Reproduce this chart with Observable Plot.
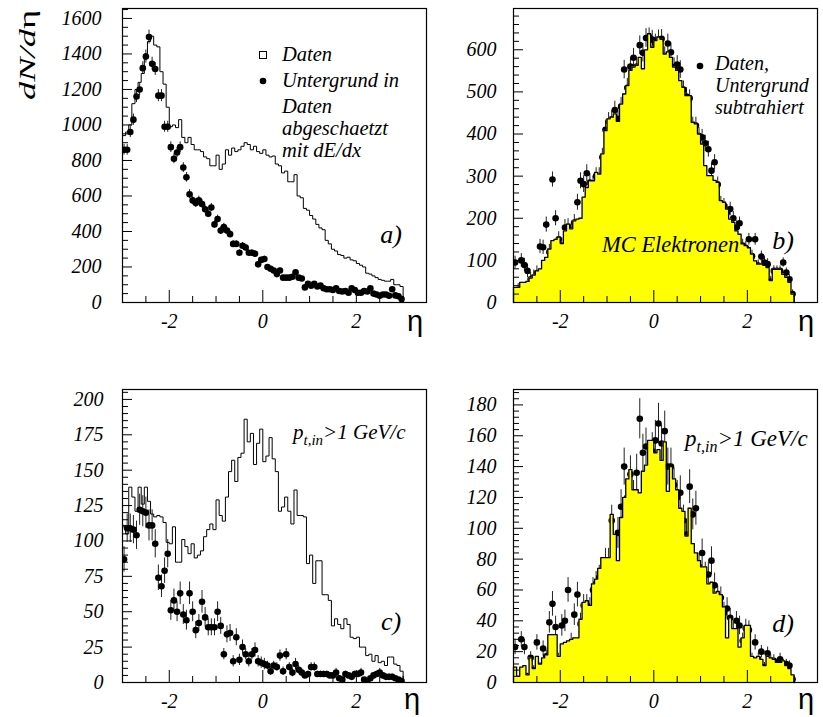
<!DOCTYPE html>
<html><head><meta charset="utf-8">
<script src="https://cdn.jsdelivr.net/npm/d3@7"></script>
<script src="https://cdn.jsdelivr.net/npm/@observablehq/plot@0.6"></script>
<style>
html,body{margin:0;padding:0;background:#fff;}
#wrap{position:relative;width:823px;height:717px;overflow:hidden;background:#fff;}
#wrap svg{position:absolute;left:0;top:0;}
</style></head><body><div id="wrap"></div>
<script>
// ---- binning (90 bins of eta from -3 to 3) ----
const ETA_MIN = -3, ETA_MAX = 3;
const xDomain = [-3, 3.5];
const xTicksMajor = [-2, 0, 2];
const xTicksMinor = [-3, -2.5, -1.5, -1, -0.5, 0.5, 1, 1.5, 2.5, 3];

// ---- panel a) : Daten (histogram) and Untergrund (points) ----
const aDaten = [940,960,1000,1120,1200,1240,1290,1400,1470,1500,
1450,1440,1300,1230,1100,990,1000,985,1030,930,
900,930,890,860,860,850,820,810,770,770,
830,750,780,860,830,870,850,860,880,900,
890,860,880,850,840,860,830,820,825,780,
770,730,740,680,680,720,600,590,530,520,
490,470,440,420,410,350,330,300,290,270,
265,250,255,240,235,220,210,200,165,160,
150,140,130,125,120,120,130,100,100,90];
const aUntergrund = [860,860,960,1030,1160,1200,1320,1385,1495,1345,
1315,1165,1165,990,990,875,810,845,875,760,
705,610,575,560,575,555,525,500,535,440,
470,405,425,405,385,330,330,280,320,310,
280,280,275,215,240,245,200,190,180,160,
180,140,140,140,145,170,140,135,85,105,
95,105,90,95,80,75,75,70,80,65,
62,65,55,80,70,55,55,65,62,80,
50,45,38,45,45,38,75,40,35,20];
const aUntergrundErr = [30,30,31,32,34,35,36,37,39,37,
36,34,34,31,31,30,28,29,30,28,
27,25,24,24,24,24,23,22,23,21,
22,20,21,20,20,18,18,17,18,18,
17,17,17,15,16,16,14,14,13,13,
13,12,12,12,12,13,12,12,9,10,
10,10,9,10,9,9,9,8,9,8,
8,8,7,9,8,7,7,8,8,9,
7,7,6,7,7,6,9,6,6,5];
const aYMajor = [0,200,400,600,800,1000,1200,1400,1600];

// ---- panel b) : MC Elektronen (filled hist) and Daten - Untergrund (points) ----
const bMC = [36,36,48,48,50,58,65,75,80,100,
107,127,147,150,155,140,170,186,175,194,
198,200,250,273,289,289,309,305,353,408,
436,440,448,430,471,495,515,551,559,563,
582,555,600,638,606,622,630,625,590,595,
582,559,551,527,511,491,491,428,424,400,
376,325,301,301,290,285,242,238,222,198,
190,170,162,139,135,130,115,99,91,91,
88,83,52,79,79,79,67,60,48,20];
const bDaten = [95,30,100,89,75,55,60,70,133,131,
185,120,292,200,150,135,178,180,170,190,
238,289,281,307,285,280,300,300,345,410,
430,435,457,436,465,553,510,560,581,560,
611,593,628,630,624,615,625,626,585,615,
594,559,565,553,505,489,485,420,420,395,
392,378,364,313,333,280,235,230,215,222,
200,178,188,135,130,150,110,150,88,109,
95,91,50,75,75,75,95,71,55,20];
const bDatenErr = [15,15,16,16,16,16,17,17,17,17,
18,18,18,18,18,18,19,19,19,19,
19,19,20,20,20,20,20,20,21,21,
21,21,21,21,22,22,22,22,22,22,
22,22,22,22,22,22,22,22,22,22,
22,22,21,21,21,21,20,20,20,20,
19,19,19,18,18,18,17,17,17,16,
16,16,15,15,15,14,14,14,13,13,
13,13,12,12,12,12,11,11,11,10];
const bYMajor = [0,100,200,300,400,500,600];

// ---- panel c) : p_t,in > 1 GeV/c, Daten (hist) and Untergrund (points) ----
const cDaten = [111,105,138,131,121,138,126,138,128,119,
117,118,117,113,99,98,110,85,85,101,
96,91,98,88,90,93,103,108,112,108,
129,118,114,131,149,157,142,159,162,186,
170,176,154,169,179,156,160,173,158,149,
121,124,131,121,112,136,118,118,117,84,
90,70,86,86,62,62,58,40,45,41,
38,45,41,32,31,32,25,25,19,20,
15,19,14,15,12,18,18,13,12,8];
const cUntergrund = [87,109,109,108,104,122,121,120,111,111,
98,74,68,79,91,51,58,50,63,48,
44,63,50,37,42,57,46,39,39,39,
50,40,20,34,35,15,32,16,25,20,
15,20,23,15,14,13,12,8,12,11,
19,8,20,11,7,13,9,7,5,6,
11,11,6,6,6,6,5,5,7,3,
2,6,5,4,6,6,7,2,1,3,
5,6,7,5,4,4,4,3,2,1];
const cUntergrundErr = [9,10,10,10,10,11,11,11,11,11,
10,9,8,9,10,7,8,7,8,7,
7,8,7,6,6,8,7,6,6,6,
7,6,4,6,6,4,6,4,5,4,
4,4,5,4,4,4,3,3,3,3,
4,3,4,3,3,4,3,3,2,2,
3,3,2,2,2,2,2,2,3,2,
1,2,2,2,2,2,3,1,1,2,
2,2,3,2,2,2,2,2,1,1];
const cYMajor = [0,25,50,75,100,125,150,175,200];

// ---- panel d) : p_t,in > 1 GeV/c, MC Elektronen (filled hist) and Daten (points) ----
const dMC = [10,4,10,11,5,16,9,17,12,16,
18,31,31,31,17,25,26,27,28,29,
29,41,52,53,50,64,67,74,81,81,
81,109,96,79,107,120,132,138,125,125,
123,137,141,157,157,149,151,144,156,124,
140,132,125,113,111,95,113,90,84,79,
75,75,64,65,58,59,57,49,29,42,
35,35,23,29,37,37,17,16,17,15,
11,17,16,15,13,13,14,11,9,5];
const dDaten = [23,2,28,23,4,16,8,26,10,22,
17,39,51,36,15,37,40,60,26,44,
57,38,50,50,48,60,64,68,72,78,
78,105,75,97,114,140,120,135,120,136,
171,149,153,138,150,157,168,155,163,140,
140,128,120,123,105,96,127,109,113,75,
84,70,70,79,63,56,55,45,48,42,
33,40,37,27,35,34,15,26,15,20,
10,19,14,14,12,15,12,12,11,2];
const dDatenErr = [5,2,5,5,2,4,3,5,3,5,
4,7,8,7,4,7,7,8,6,7,
8,7,7,7,7,8,8,8,8,9,
9,10,9,10,11,12,11,12,11,12,
13,12,12,12,12,13,13,12,13,12,
12,11,11,11,10,10,11,10,11,9,
9,8,8,9,8,7,7,7,7,6,
6,6,6,5,6,6,4,5,4,4,
3,4,4,4,3,4,3,3,3,1];
const dYMajor = [0,20,40,60,80,100,120,140,160,180];

// ---- drawing ----
const FONT = "Liberation Serif, Times New Roman, serif";
const wrap = document.getElementById("wrap");

function minorTicks(step, max, major) {
  const out = [];
  for (let v = 0; v <= max + 1e-9; v += step) {
    const r = Math.round(v * 1000) / 1000;
    if (!major.includes(r)) out.push(r);
  }
  return out;
}

function panel({mL, mR, mT, mB, yDomain, yMajor, yMinorStep, hist, pts, err, filled, yPad}) {
  const W = 823 - mL - mR, H = 717 - mT - mB;
  const n = hist.length, bw = (ETA_MAX - ETA_MIN) / n;
  const step = [{x: ETA_MIN, y: 0}]
    .concat(hist.map((v, i) => ({x: ETA_MIN + i * bw, y: v})))
    .concat([{x: ETA_MAX, y: hist[n - 1]}, {x: ETA_MAX, y: 0}]);
  const dots = pts.map((v, i) => ({x: ETA_MIN + (i + 0.5) * bw, y: v, e: err[i]}));
  const yMinor = minorTicks(yMinorStep, yDomain[1], yMajor);
  const marks = [
    Plot.ruleX(dots, {x: "x", y1: d => Math.max(0, d.y - d.e), y2: d => d.y + d.e, stroke: "#222", strokeWidth: 1, clip: true}),
    Plot.dot(dots, {x: "x", y: "y", r: 3.3, fill: "black", stroke: null, clip: true})
  ];
  if (filled) marks.push(Plot.areaY(step, {x: "x", y: "y", curve: "step-after", fill: "#ffff00"}));
  marks.push(
    Plot.lineY(step, {x: "x", y: "y", curve: "step-after", stroke: "black", strokeWidth: filled ? 1.3 : 1}),
    Plot.tickY(yMajor, {y: d => d, insetRight: W - 10, stroke: "black"}),
    Plot.tickY(yMinor, {y: d => d, insetRight: W - 6, stroke: "black"}),
    Plot.tickX(xTicksMajor, {x: d => d, insetTop: H - 12, stroke: "black"}),
    Plot.tickX(xTicksMinor, {x: d => d, insetTop: H - 6, stroke: "black"}),
    Plot.frame({stroke: "black", strokeWidth: 1.2}),
    Plot.axisY(yMajor, {anchor: "left", tickSize: 0, tickPadding: yPad, tickFormat: d => String(d),
      fontSize: 20, fontStyle: "italic", fontFamily: FONT, label: null}),
    Plot.axisX(xTicksMajor, {anchor: "bottom", tickSize: 0, tickPadding: 11, tickFormat: d => String(d),
      fontSize: 20, fontStyle: "italic", fontFamily: FONT, label: null})
  );
  const p = Plot.plot({
    width: 823, height: 717,
    marginLeft: mL, marginRight: mR, marginTop: mT, marginBottom: mB,
    x: {domain: xDomain, label: null},
    y: {domain: yDomain, label: null},
    style: {background: "transparent", overflow: "visible", fontFamily: FONT},
    marks
  });
  wrap.appendChild(p);
  return p;
}

panel({mL: 122, mR: 397, mT: 8, mB: 415, yDomain: [0, 1656], yMajor: aYMajor, yMinorStep: 50,
  hist: aDaten, pts: aUntergrund, err: aUntergrundErr, filled: false, yPad: 21});
panel({mL: 513, mR: 6, mT: 8, mB: 415, yDomain: [0, 698], yMajor: bYMajor, yMinorStep: 20,
  hist: bMC, pts: bDaten, err: bDatenErr, filled: true, yPad: 17});
panel({mL: 122, mR: 397, mT: 389, mB: 35, yDomain: [0, 207], yMajor: cYMajor, yMinorStep: 5,
  hist: cDaten, pts: cUntergrund, err: cUntergrundErr, filled: false, yPad: 19});
panel({mL: 513, mR: 6, mT: 389, mB: 35, yDomain: [0, 190], yMajor: dYMajor, yMinorStep: 4,
  hist: dMC, pts: dDaten, err: dDatenErr, filled: true, yPad: 17});

// ---- annotations (text) ----
const ov = d3.create("svg").attr("width", 823).attr("height", 717)
  .attr("font-family", FONT).style("overflow", "visible");
function label(x, y, s, size, opts = {}) {
  return ov.append("text").attr("x", x).attr("y", y)
    .attr("font-size", size)
    .attr("font-style", opts.italic === false ? "normal" : "italic")
    .attr("font-family", opts.family || FONT)
    .attr("text-anchor", opts.anchor || "start").attr("fill", "black").text(s);
}
// y-axis title
const yt = ov.append("text").attr("transform", "translate(35,100) rotate(-90)")
  .attr("font-size", 24).attr("font-family", FONT)
  .attr("textLength", 90).attr("lengthAdjust", "spacingAndGlyphs");
yt.append("tspan").attr("font-style", "italic").text("dN/d");
yt.append("tspan").attr("font-style", "normal").text("η");
// x-axis titles
const etaFont = "Liberation Sans, DejaVu Sans, sans-serif";
[[415, 331], [806, 331], [412, 709], [806, 709]].forEach(([x, y]) =>
  label(x, y, "η", 29, {italic: false, anchor: "middle", family: etaFont}));
// panel letters
label(391, 243, "a)", 26, {anchor: "middle"});
label(783, 249, "b)", 26, {anchor: "middle"});
label(391, 630, "c)", 26, {anchor: "middle"});
label(783, 632, "d)", 26, {anchor: "middle"});
// legend a
ov.append("rect").attr("x", 259.5).attr("y", 51.5).attr("width", 7).attr("height", 7)
  .attr("fill", "none").attr("stroke", "black");
ov.append("circle").attr("cx", 263).attr("cy", 81).attr("r", 3.3).attr("fill", "black");
label(282, 61, "Daten", 20.5);
label(282, 87, "Untergrund in", 20.5);
label(282, 113, "Daten", 20.5);
label(282, 135, "abgeschaetzt", 20.5);
label(282, 157, "mit dE/dx", 20.5);
// legend b
ov.append("circle").attr("cx", 700).attr("cy", 66).attr("r", 3.3).attr("fill", "black");
label(715, 70, "Daten,", 20);
label(715, 92, "Untergrund", 20);
label(715, 114, "subtrahiert", 20);
label(602, 252, "MC Elektronen", 22.5);
// pt cut labels
function ptLabel(x, y, size) {
  const t = ov.append("text").attr("x", x).attr("y", y)
    .attr("font-size", size).attr("font-style", "italic").attr("font-family", FONT);
  t.append("tspan").text("p");
  t.append("tspan").attr("font-size", Math.round(size * 0.7)).attr("dy", 6).text("t,in");
  t.append("tspan").attr("dy", -6).text(">1 GeV/c");
}
ptLabel(293, 439, 21);
ptLabel(685, 446, 23);
wrap.appendChild(ov.node());
</script></body></html>
